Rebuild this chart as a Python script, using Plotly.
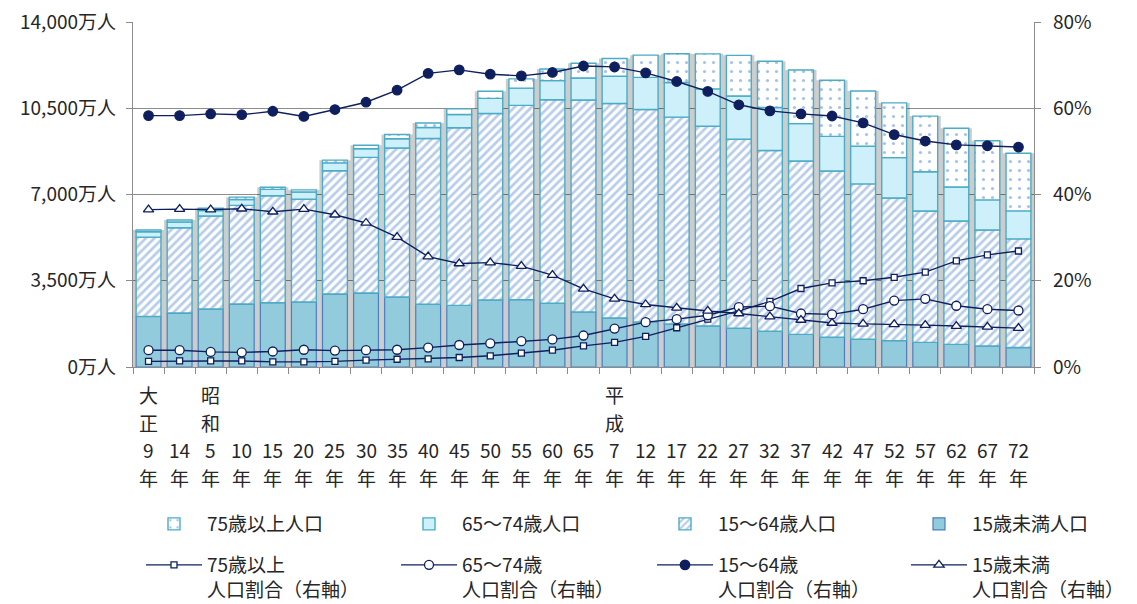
import plotly.graph_objects as go

# ---- data -------------------------------------------------------------
era_labels = ["大正", "", "昭和", "", "", "", "", "", "", "", "", "", "", "", "",
              "平成", "", "", "", "", "", "", "", "", "", "", "", "", ""]
year_labels = ["9", "14", "5", "10", "15", "20", "25", "30", "35", "40", "45", "50",
               "55", "60", "65", "7", "12", "17", "22", "27", "32", "37", "42", "47",
               "52", "57", "62", "67", "72"]

# population (万人)
pop_u15 = [2050, 2190, 2355, 2555, 2610, 2640, 2960, 3000, 2840, 2545, 2500, 2720, 2730,
           2585, 2235, 1990, 1830, 1750, 1665, 1570, 1450, 1325, 1205, 1125, 1070, 1000,
           920, 855, 790]
pop_1564 = [3220, 3460, 3770, 4005, 4340, 4170, 5005, 5505, 6045, 6725, 7210, 7565, 7885,
            8260, 8600, 8700, 8620, 8390, 8105, 7670, 7335, 7035, 6750, 6305, 5790, 5330,
            5005, 4705, 4410]
pop_6574 = [218, 233, 226, 235, 259, 289, 320, 351, 377, 446, 534, 616, 702, 775, 892,
            1109, 1303, 1407, 1517, 1760, 1745, 1515, 1405, 1525, 1635, 1595, 1380, 1220,
            1135]
pop_75 = [73, 84, 90, 97, 86, 87, 109, 144, 170, 188, 230, 291, 375, 472, 597, 717, 901,
          1164, 1419, 1646, 1879, 2179, 2278, 2245, 2223, 2257, 2385, 2401, 2336]

# ratios (%)
ratio_75 = [1.3, 1.4, 1.4, 1.4, 1.2, 1.2, 1.3, 1.6, 1.8, 1.9, 2.2, 2.6, 3.2, 3.9, 4.9, 5.7,
            7.1, 9.1, 11.1, 13.0, 15.2, 18.2, 19.5, 20.0, 20.8, 22.0, 24.6, 26.0, 26.9]
ratio_6574 = [3.9, 3.9, 3.5, 3.4, 3.6, 4.0, 3.8, 3.9, 4.0, 4.5, 5.1, 5.5, 6.0, 6.4, 7.3, 8.9,
              10.4, 11.1, 12.0, 13.9, 14.1, 12.4, 12.2, 13.4, 15.4, 15.8, 14.2, 13.4, 13.1]
ratio_1564 = [58.3, 58.3, 58.7, 58.5, 59.3, 58.1, 59.7, 61.4, 64.2, 68.1, 68.9, 67.9, 67.5,
              68.3, 69.8, 69.6, 68.2, 66.2, 63.9, 60.8, 59.4, 58.7, 58.2, 56.6, 53.9, 52.4,
              51.5, 51.3, 51.0]
ratio_u15 = [36.5, 36.6, 36.5, 36.7, 36.0, 36.6, 35.3, 33.4, 30.1, 25.6, 24.0, 24.2, 23.4,
             21.3, 18.1, 15.8, 14.5, 13.7, 13.0, 12.4, 11.7, 10.9, 10.2, 10.0, 9.9, 9.7,
             9.5, 9.3, 9.0]

left_tickvals = [0, 3500, 7000, 10500, 14000]
left_ticktext = ["0万人", "3,500万人", "7,000万人", "10,500万人", "14,000万人"]
right_tickvals = [0, 20, 40, 60, 80]
right_ticktext = ["0%", "20%", "40%", "60%", "80%"]

# ---- figure -----------------------------------------------------------
FONT = "Noto Sans CJK JP"
TXT = "#262626"
NAVY = "#0f1f5e"
TEAL = "#4bacc6"
GRID = "#8c8c8c"
W, H = 1137, 604

cats = [f"{e}{n}年" for e, n in zip(era_labels, year_labels)]
total = [a + b + c + d for a, b, c, d in zip(pop_u15, pop_1564, pop_6574, pop_75)]
base_1564 = list(pop_u15)
base_6574 = [a + b for a, b in zip(pop_u15, pop_1564)]
base_75 = [a + b + c for a, b, c in zip(pop_u15, pop_1564, pop_6574)]

fig = go.Figure()

# soft shadow behind each stacked bar
fig.add_trace(go.Bar(x=cats, y=total, width=1.0, showlegend=False, hoverinfo="skip",
                     marker=dict(color="rgba(0,0,0,0.2)", line=dict(width=0))))

fig.add_trace(go.Bar(x=cats, y=pop_u15, width=0.8, name="15歳未満人口", legend="legend4",
                     marker=dict(color="#92cbdc", line=dict(color="#4a7fc0", width=1.2))))
fig.add_trace(go.Bar(x=cats, y=pop_1564, base=base_1564, width=0.8, name="15～64歳人口",
                     legend="legend3",
                     marker=dict(color="#6f9ad6", line=dict(color=TEAL, width=1.4),
                                 pattern=dict(shape="/", bgcolor="white", fgcolor="#6f9ad6",
                                              size=6, solidity=0.45))))
fig.add_trace(go.Bar(x=cats, y=pop_6574, base=base_6574, width=0.8, name="65～74歳人口",
                     legend="legend2",
                     marker=dict(color="#cdf0fa", line=dict(color=TEAL, width=1.4))))
fig.add_trace(go.Bar(x=cats, y=pop_75, base=base_75, width=0.8, name="75歳以上人口",
                     legend="legend",
                     marker=dict(color="#4f86d2", line=dict(color=TEAL, width=1.4),
                                 pattern=dict(shape=".", bgcolor="white", fgcolor="#4f86d2",
                                              size=9, solidity=0.1))))

line_specs = [
    ("75歳以上<br>人口割合（右軸）", ratio_75, "square", "white", 6),
    ("65～74歳<br>人口割合（右軸）", ratio_6574, "circle", "white", 9),
    ("15～64歳<br>人口割合（右軸）", ratio_1564, "circle", NAVY, 9.5),
    ("15歳未満<br>人口割合（右軸）", ratio_u15, "triangle-up", "white", 9),
]
for k, (nm, vals, sym, fill, sz) in enumerate(line_specs):
    fig.add_trace(go.Scatter(x=cats, y=vals, yaxis="y2", name=nm, legend=f"legend{k + 5}",
                             mode="lines+markers",
                             line=dict(color=NAVY, width=1.4),
                             marker=dict(symbol=sym, size=sz, color=fill,
                                         line=dict(color=NAVY, width=1.3))))

# category labels below the axis (era / number / 年)
row_px = [394, 422, 449, 477]
plot_top, plot_bottom = 22, 367
def py(px):
    return (plot_bottom - px) / (plot_bottom - plot_top)

annos = []
for c, e, n in zip(cats, era_labels, year_labels):
    if e:
        for k, ch in enumerate(e):
            annos.append(dict(x=c, y=py(row_px[k]), text=ch))
    annos.append(dict(x=c, y=py(row_px[2]), text=n))
    annos.append(dict(x=c, y=py(row_px[3]), text="年"))
for a in annos:
    a.update(xref="x", yref="paper", showarrow=False, yanchor="middle", xanchor="center",
             font=dict(family=FONT, size=19, color=TXT))

# legend: 4 columns x 2 rows, one entry per legend box
col_px = [141, 396, 652, 906]
row_top_px = [505, 546]
legends = {}
for r in range(2):
    for c in range(4):
        idx = r * 4 + c + 1
        key = "legend" if idx == 1 else f"legend{idx}"
        legends[key] = dict(orientation="v", xref="container", yref="container",
                            x=col_px[c] / W, y=1 - row_top_px[r] / H,
                            xanchor="left", yanchor="top", itemwidth=56, valign="top",
                            font=dict(family=FONT, size=19, color=TXT),
                            bgcolor="rgba(0,0,0,0)", itemclick=False,
                            itemdoubleclick=False)

fig.update_layout(
    width=W, height=H, autosize=False,
    margin=dict(l=133, r=103, t=22, b=237, pad=0, autoexpand=False),
    paper_bgcolor="white", plot_bgcolor="white",
    barmode="overlay",
    font=dict(family=FONT, size=19, color=TXT),
    xaxis=dict(type="category", range=[-0.5, 28.5], showticklabels=False,
               ticks="outside", tickson="boundaries", ticklen=6, tickcolor=GRID,
               tickwidth=1.3, showline=True, linecolor=GRID, linewidth=1.3,
               showgrid=False, zeroline=False),
    yaxis=dict(range=[0, 14000], tickvals=left_tickvals, ticktext=left_ticktext,
               ticks="outside", ticklen=6, tickcolor=GRID, tickwidth=1.3,
               showline=True, linecolor=GRID, linewidth=1.3,
               showgrid=True, gridcolor=GRID, gridwidth=1.4, zeroline=False,
               ticklabelstandoff=6, tickfont=dict(family=FONT, size=19, color=TXT)),
    yaxis2=dict(range=[0, 80], overlaying="y", side="right", tickvals=right_tickvals,
                ticktext=right_ticktext, ticks="outside", ticklen=6, tickcolor=GRID,
                tickwidth=1.3, showline=True, linecolor=GRID, linewidth=1.3,
                showgrid=False, zeroline=False, ticklabelstandoff=8,
                tickfont=dict(family=FONT, size=19, color=TXT)),
    annotations=annos,
    showlegend=True,
    **legends,
)

fig.write_html("out.html", config={"displayModeBar": False},
               post_script="document.body.style.margin='0';")
